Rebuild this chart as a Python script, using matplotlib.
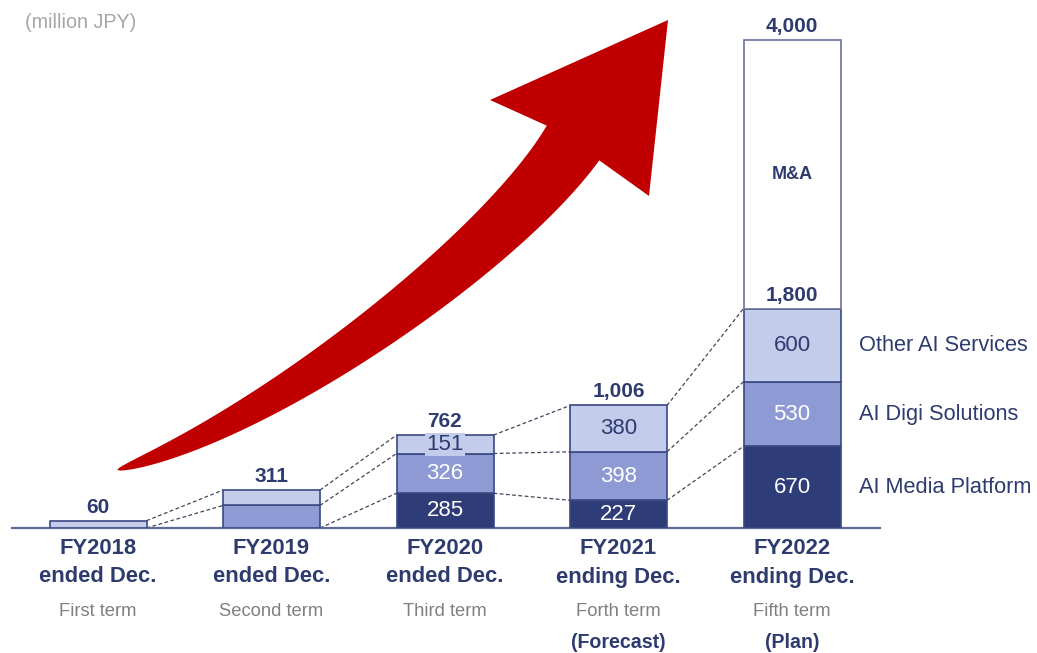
import numpy as np
import matplotlib
matplotlib.use("Agg")
import matplotlib.pyplot as plt
from matplotlib.transforms import blended_transform_factory
from matplotlib.patches import Polygon

# ---- data (million JPY) ----
years = ["FY2018", "FY2019", "FY2020", "FY2021", "FY2022"]
period = ["ended Dec.", "ended Dec.", "ended Dec.", "ending Dec.", "ending Dec."]
terms = ["First term", "Second term", "Third term", "Forth term", "Fifth term"]
status = ["", "", "", "(Forecast)", "(Plan)"]

media_platform = [0, 0, 285, 227, 670]
digi_solutions = [0, 185, 326, 398, 530]
other_services = [60, 126, 151, 380, 600]
m_and_a = [0, 0, 0, 0, 2200]
totals = [60, 311, 762, 1006, 4000]
subtotal_label = {4: 1800}
show_segment_labels = [False, False, True, True, True]
segment_names = ["AI Media Platform", "AI Digi Solutions", "Other AI Services"]

# ---- style ----
NAVY = "#2E3D78"
MID = "#8D9AD3"
LIGHT = "#C4CCEB"
EDGE = "#3A4982"
TEXT = "#2E3B6E"
GREY = "#808080"
RED = "#C00000"

plt.rcParams["font.family"] = ["Liberation Sans", "DejaVu Sans"]

W, H = 1037, 653
fig = plt.figure(figsize=(W / 100, H / 100), dpi=100)

# decorative growth arrow, drawn in figure pixel space
deco = fig.add_axes([0, 0, 1, 1])
deco.set_xlim(0, W)
deco.set_ylim(H, 0)
deco.axis("off")

c0 = np.array([117, 470.0])
c1 = np.array([267, 425.0])
c2 = np.array([501, 252.0])
c3 = np.array([573, 143.0])
t = np.linspace(0, 1, 160)
tt = t[:, None]
curve = (1 - tt) ** 3 * c0 + 3 * tt * (1 - tt) ** 2 * c1 + 3 * tt ** 2 * (1 - tt) * c2 + tt ** 3 * c3
deriv = 3 * (1 - tt) ** 2 * (c1 - c0) + 6 * tt * (1 - tt) * (c2 - c1) + 3 * tt ** 2 * (c3 - c2)
deriv /= np.linalg.norm(deriv, axis=1)[:, None]
normal = np.column_stack([-deriv[:, 1], deriv[:, 0]])
half = 0.5 * 63 * t ** 0.6
upper = curve - normal * half[:, None]
lower = curve + normal * half[:, None]
head = np.array([[490, 100], [668, 20], [649, 196]])
outline = np.vstack([upper, head, lower[::-1]])
deco.add_patch(Polygon(outline, closed=True, facecolor=RED, edgecolor="none"))

# main chart axes; baseline at pixel row 528, 0.1219 px per unit
px_per_unit = 0.1219
base_px = 528
left_px, right_px = 12, 880
centre0, step = 98, 173.5
ax = fig.add_axes([left_px / W, (H - base_px) / H, (right_px - left_px) / W, base_px / H])
ax.set_facecolor("none")
ax.set_xlim((left_px - centre0) / step, (right_px - centre0) / step)
ax.set_ylim(0, base_px / px_per_unit)
for s in ["top", "right", "left"]:
    ax.spines[s].set_visible(False)
ax.spines["bottom"].set_color("#5F6A93")
ax.spines["bottom"].set_linewidth(1.6)
ax.set_xticks([])
ax.set_yticks([])

x = np.arange(len(years))
bw = 97 / step
layers = [
    (media_platform, NAVY, "white"),
    (digi_solutions, MID, "white"),
    (other_services, LIGHT, TEXT),
]
bottom = np.zeros(len(years))
bounds = [bottom.copy()]
for vals, col, tcol in layers:
    vals = np.array(vals, dtype=float)
    mask = vals > 0
    ax.bar(x[mask], vals[mask], bw, bottom=bottom[mask], color=col,
           edgecolor=EDGE, linewidth=1.2, zorder=3)
    for i in np.where(mask)[0]:
        if show_segment_labels[i]:
            box = None
            if vals[i] * px_per_unit < 24:
                box = dict(boxstyle="square,pad=0.05", facecolor=col, edgecolor="none")
            ax.text(x[i], bottom[i] + vals[i] / 2, f"{int(vals[i]):,}", ha="center",
                    va="center", color=tcol, fontsize=16, zorder=5, bbox=box)
    bottom = bottom + vals
    bounds.append(bottom.copy())

# M&A block on top of the FY2022 stack
ma = np.array(m_and_a, dtype=float)
mmask = ma > 0
ax.bar(x[mmask], ma[mmask], bw, bottom=bottom[mmask], color="white",
       edgecolor="#6A7299", linewidth=1.2, zorder=3)
for i in np.where(mmask)[0]:
    ax.text(x[i], bottom[i] + ma[i] / 2, "M&A", ha="center", va="center",
            color=TEXT, fontsize=13, fontweight="bold", zorder=5)

# dashed connectors between matching stack boundaries
for i in range(len(years) - 1):
    for b in bounds[1:]:
        ax.plot([x[i] + bw / 2, x[i + 1] - bw / 2], [b[i], b[i + 1]],
                linestyle=(0, (3, 2)), color="#44465A", linewidth=0.9, zorder=2)

# totals above bars
for i, tot in enumerate(totals):
    top = bottom[i] + ma[i]
    ax.annotate(f"{tot:,}", (x[i], top), xytext=(0, 8), textcoords="offset pixels",
                ha="center", va="baseline", fontsize=15, fontweight="bold",
                color=TEXT, zorder=6)
for i, val in subtotal_label.items():
    ax.annotate(f"{val:,}", (x[i], bottom[i]), xytext=(0, 8), textcoords="offset pixels",
                ha="center", va="baseline", fontsize=15, fontweight="bold",
                color=TEXT, zorder=6)

# category labels below the baseline
tr = blended_transform_factory(ax.transData, fig.transFigure)
fy = lambda py: 1 - py / H
for i in range(len(years)):
    ax.text(x[i], fy(549), years[i], transform=tr, ha="center", va="center",
            fontsize=15.8, fontweight="bold", color=TEXT)
    ax.text(x[i], fy(577), period[i], transform=tr, ha="center", va="center",
            fontsize=15.8, fontweight="bold", color=TEXT)
    ax.text(x[i], fy(612), terms[i], transform=tr, ha="center", va="center",
            fontsize=13.2, color=GREY)
    if status[i]:
        ax.text(x[i], fy(642), status[i], transform=tr, ha="center", va="center",
                fontsize=14.1, fontweight="bold", color=TEXT)

# segment names beside the last stack
tr_leg = blended_transform_factory(fig.transFigure, ax.transData)
last = len(years) - 1
for k, name in enumerate(segment_names):
    mid = bounds[k][last] + (bounds[k + 1][last] - bounds[k][last]) / 2
    ax.text(859 / W, mid, name, transform=tr_leg, ha="left", va="center",
            fontsize=15.7, color=TEXT)

fig.text(25 / W, fy(22), "(million JPY)", ha="left", va="center",
         fontsize=14.2, color="#A6A6A6")

fig.savefig("out.png", dpi=100)
